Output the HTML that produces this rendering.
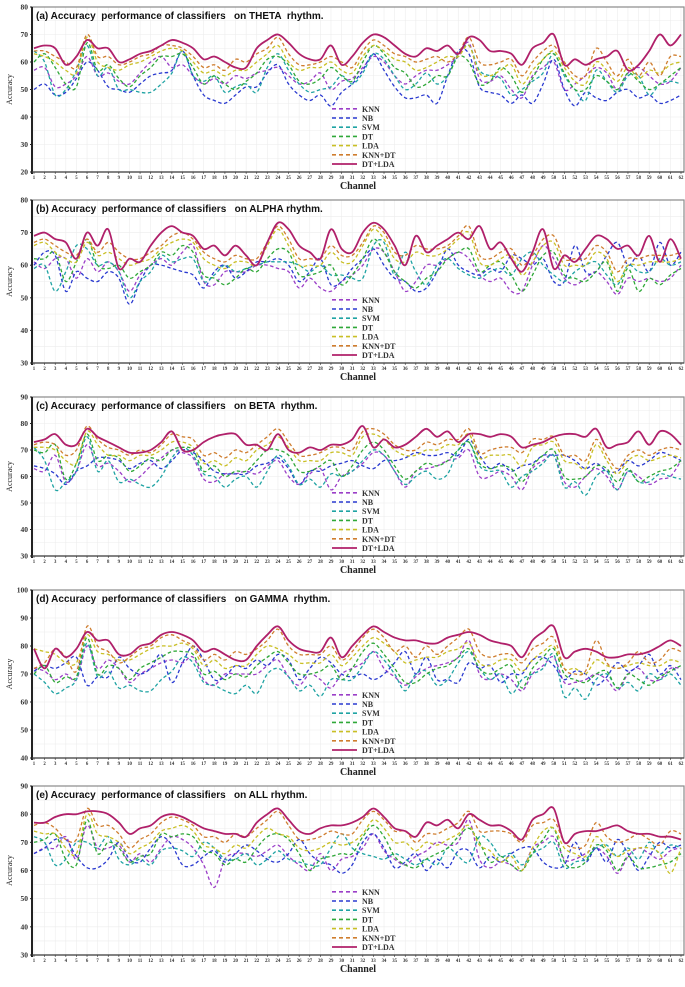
<!DOCTYPE html>
<html><head><meta charset="utf-8">
<style>
html,body{margin:0;padding:0;background:#fff;}
svg{display:block;}
.ttl{white-space:pre;}
</style></head>
<body>
<svg id="chart" width="685" height="987" viewBox="0 0 685 987" xmlns="http://www.w3.org/2000/svg"></svg>
<script>
const channels = Array.from({length:62},(_,i)=>i+1);
const seriesNames = ["KNN","NB","SVM","DT","LDA","KNN+DT","DT+LDA"];
const panelTitles = ["(a) Accuracy  performance of classifiers   on THETA  rhythm.","(b) Accuracy  performance of classifiers   on ALPHA rhythm.","(c) Accuracy  performance of classifiers   on BETA  rhythm.","(d) Accuracy  performance of classifiers   on GAMMA  rhythm.","(e) Accuracy  performance of classifiers   on ALL rhythm."];
const yTicksA = [20,30,40,50,60,70,80];
const yTicksB = [30,40,50,60,70,80];
const yTicksC = [30,40,50,60,70,80,90];
const yTicksD = [40,50,60,70,80,90,100];
const yTicksE = [30,40,50,60,70,80,90];

const thetaKNN=[57,58,51,52,55,62,55,56,53,52,56,60,62,58,59,55,52,54,52,55,54,56,57,58,55,52,53,56,50,53,54,58,62,60,55,52,55,57,57,59,62,67,54,53,55,50,47,55,58,60,50,52,55,58,56,50,56,58,55,52,53,58];
const thetaNB=[50,52,48,49,54,60,57,51,50,49,52,55,56,57,64,55,48,46,45,48,51,51,56,59,52,48,46,48,44,49,52,57,63,57,51,47,47,48,45,55,64,63,51,49,48,45,48,45,52,61,50,44,49,47,46,49,50,47,48,45,46,48];
const thetaSVM=[64,60,48,50,57,66,55,58,50,50,49,49,52,56,64,55,53,55,49,51,52,49,58,63,57,52,49,50,51,55,52,56,63,61,55,50,52,56,52,55,63,66,57,55,54,48,50,53,56,63,55,50,46,57,53,49,55,55,48,52,53,52];
const thetaDT=[60,63,58,52,51,67,57,59,54,51,55,58,62,62,63,58,52,55,52,50,53,56,61,62,59,53,52,54,58,55,53,60,66,63,58,56,51,52,55,55,62,60,52,53,58,55,49,54,61,63,56,50,50,55,53,50,56,53,50,52,55,58];
const thetaLDA=[63,62,60,57,56,69,60,58,57,59,60,62,64,65,64,60,56,57,55,57,57,60,63,66,60,57,58,58,60,57,56,62,66,64,61,60,57,58,60,62,62,66,56,55,57,59,52,57,61,64,58,53,52,60,57,53,58,54,57,56,59,60];
const thetaKNNDT=[64,64,62,60,58,70,62,62,59,60,62,63,66,66,65,62,58,59,57,61,60,63,65,69,63,59,59,60,62,60,58,64,68,66,63,62,60,61,62,60,63,69,60,59,60,61,55,60,64,66,60,55,55,65,60,55,61,55,60,55,62,62];
const thetaDTLDA=[65,66,65,59,62,68,65,65,60,61,63,64,66,68,67,65,61,62,60,58,58,65,68,70,67,63,61,61,66,59,62,67,70,69,66,63,62,65,64,66,63,69,68,64,64,63,59,65,67,70,59,61,59,61,62,64,57,59,64,70,66,70];

const alphaKNN=[61,59,62,62,56,62,58,61,58,52,57,60,62,60,64,66,55,54,58,58,58,60,60,59,58,53,56,53,52,55,57,60,65,64,58,52,55,60,60,62,64,62,57,55,56,52,52,60,66,62,56,54,56,58,55,51,56,55,56,55,56,60];
const alphaNB=[60,64,63,52,58,56,55,58,56,48,55,60,60,59,58,57,53,58,60,56,58,61,61,62,60,55,58,62,54,55,59,62,65,60,56,55,52,53,58,65,60,58,57,59,58,63,62,60,62,55,55,66,58,58,63,67,60,63,58,67,60,64];
const alphaSVM=[59,60,52,58,66,65,60,61,58,50,55,58,63,61,62,62,55,57,60,58,59,60,61,61,61,60,58,60,57,57,56,56,66,67,57,64,58,54,60,62,59,57,56,58,59,57,62,64,60,57,55,58,60,61,57,54,60,58,58,62,60,61];
const alphaDT=[62,62,64,55,61,68,60,59,60,56,58,60,64,63,66,64,57,56,54,56,59,58,62,65,64,57,57,58,60,54,57,62,68,64,58,55,53,56,58,62,64,65,58,60,61,57,52,57,63,64,57,56,55,58,61,52,59,52,56,54,57,59];
const alphaLDA=[66,67,64,62,61,67,63,64,62,60,61,62,65,67,68,67,62,60,59,61,61,60,66,71,66,60,60,60,64,61,61,66,71,68,62,61,64,63,63,65,68,70,61,60,62,63,57,61,66,67,60,60,60,64,62,55,60,60,61,61,61,62];
const alphaKNNDT=[67,68,66,64,63,68,64,67,64,62,62,64,66,69,70,68,64,62,61,63,62,62,67,72,68,62,62,62,66,63,63,67,72,70,64,63,66,65,65,66,69,72,63,62,64,65,60,63,68,69,62,62,62,66,64,58,62,62,63,63,63,64];
const alphaDTLDA=[69,70,68,67,62,70,66,71,59,62,61,66,70,72,70,69,65,66,63,66,63,60,67,73,71,66,64,62,71,65,64,70,73,71,66,60,69,64,66,68,70,68,72,65,67,62,58,64,71,59,63,61,65,69,68,65,66,63,69,61,68,62];

const betaKNN=[63,62,68,58,62,72,64,65,62,58,60,64,67,70,69,67,59,58,61,61,62,61,64,66,60,57,61,63,55,60,62,65,69,68,62,56,62,63,64,66,67,70,60,60,62,60,55,63,66,68,58,56,60,63,60,55,62,60,57,59,60,66];
const betaNB=[64,63,61,57,62,64,67,67,66,63,65,66,63,66,70,69,66,62,61,61,61,64,65,67,63,57,62,62,64,65,66,64,63,66,66,67,69,68,68,69,68,74,68,63,65,62,64,65,68,68,68,66,63,65,62,62,66,64,66,69,68,66];
const betaSVM=[71,66,55,58,62,75,62,66,58,59,57,56,60,67,71,68,61,60,56,59,60,56,62,68,64,57,59,56,61,60,62,66,70,68,62,57,60,62,59,61,70,73,64,62,62,56,60,62,65,68,56,58,53,60,62,55,62,58,58,61,60,59];
const betaDT=[70,69,72,59,65,76,66,68,67,62,64,67,66,70,71,70,62,64,60,62,62,66,70,70,68,62,62,64,66,60,64,70,73,70,64,59,62,65,64,66,70,73,65,63,64,63,58,64,68,70,60,59,60,64,63,58,63,58,60,62,63,66];
const betaLDA=[71,71,70,66,65,77,72,68,68,66,68,68,70,73,73,71,65,66,64,67,66,70,72,75,71,66,66,66,69,69,68,75,76,74,70,68,68,70,70,72,72,76,67,68,68,68,64,71,72,73,66,65,63,72,66,61,66,68,66,67,68,67];
const betaKNNDT=[72,73,72,68,70,79,74,71,70,68,70,69,72,76,75,74,68,69,67,70,69,72,75,78,73,68,68,69,71,71,70,77,78,76,72,70,70,73,72,74,74,78,69,70,71,71,69,74,74,75,68,68,66,74,68,63,68,70,68,70,71,70];
const betaDTLDA=[73,74,76,72,72,78,75,73,71,69,69,70,73,77,70,70,73,75,76,76,72,72,70,76,70,69,71,70,72,72,74,79,71,74,71,72,75,78,75,77,73,76,76,75,76,75,71,72,73,75,76,76,75,78,71,72,73,77,72,77,76,72];

const gammaKNN=[72,71,68,70,68,80,72,75,72,67,70,72,74,75,74,76,68,66,70,70,70,70,73,75,69,66,70,68,65,70,72,74,78,72,69,66,69,72,73,74,76,82,70,68,70,68,64,70,73,76,67,67,68,70,68,64,70,72,68,68,72,72];
const gammaNB=[71,73,72,74,76,66,69,69,76,72,70,72,77,67,74,80,75,68,69,73,72,75,73,77,75,68,72,76,74,70,69,70,68,70,74,78,70,76,68,68,67,74,72,73,67,70,70,75,76,73,68,71,70,66,69,74,71,73,77,70,73,68];
const gammaSVM=[70,67,63,65,68,81,69,71,65,66,64,64,68,71,76,74,67,66,64,63,66,63,70,72,69,64,66,62,68,68,68,73,78,75,70,64,70,71,66,68,74,78,72,68,70,63,68,70,72,77,62,65,61,68,70,65,67,64,70,68,70,66];
const gammaDT=[70,73,67,69,69,83,70,73,72,68,72,74,76,78,78,77,70,71,68,70,69,73,76,78,74,70,70,71,73,68,72,78,81,77,72,67,67,70,72,73,76,79,72,70,72,73,65,72,76,79,70,68,67,70,71,65,70,68,66,69,71,73];
const gammaLDA=[79,78,77,74,74,84,78,77,75,75,77,79,80,80,81,79,73,75,72,73,73,77,80,79,77,74,74,74,77,73,76,80,83,81,78,74,75,76,76,78,79,81,74,73,75,75,71,75,78,80,72,72,70,75,73,72,73,74,73,73,75,74];
const gammaKNNDT=[72,74,79,76,71,87,80,78,74,76,79,80,83,84,82,80,75,77,75,78,77,79,82,86,80,77,77,77,80,75,78,83,86,83,78,80,76,80,77,80,83,86,78,76,77,77,74,79,81,83,72,70,71,82,74,72,74,78,74,75,79,78];
const gammaDTLDA=[79,72,79,76,79,85,82,82,77,77,80,81,84,85,84,82,78,79,77,75,75,80,84,87,82,79,78,78,83,76,80,84,87,85,83,82,82,81,81,83,84,85,84,82,81,80,76,82,85,87,76,78,79,78,76,76,77,77,78,80,82,80];

const allKNN=[66,68,68,72,64,76,68,68,69,63,66,63,68,72,71,68,62,54,64,66,66,65,67,69,65,62,60,66,60,64,65,68,73,67,64,62,65,67,70,69,70,78,64,61,63,62,60,68,70,72,64,64,66,68,65,59,65,68,66,64,67,68];
const allNB=[66,68,71,71,65,61,61,64,70,64,63,68,72,69,62,62,65,67,63,66,69,67,64,63,66,71,66,63,62,59,62,70,73,68,61,63,66,60,64,61,67,67,61,65,63,66,68,68,63,61,62,70,63,68,63,71,66,60,65,70,68,69];
const allSVM=[72,70,62,64,70,70,68,72,64,62,64,62,67,68,67,65,70,68,64,64,66,62,64,67,64,63,62,62,68,73,68,66,65,64,66,64,62,64,62,68,65,63,72,70,65,66,62,66,68,70,61,63,64,68,69,65,68,64,70,66,69,68];
const allDT=[70,71,73,64,62,78,66,70,68,63,65,66,73,72,73,72,67,66,62,64,63,68,72,73,71,66,60,64,65,66,66,72,76,72,65,62,61,64,66,68,72,75,70,63,65,62,60,66,71,75,63,61,63,69,67,60,65,61,61,62,63,66];
const allLDA=[74,73,73,68,66,80,73,72,70,66,68,70,74,75,76,74,69,68,66,69,68,72,75,73,72,68,67,68,70,69,70,73,78,75,70,70,67,70,69,71,73,76,69,67,63,65,60,68,74,75,68,66,65,72,68,65,67,68,68,66,59,68];
const allKNNDT=[76,77,75,71,71,82,76,76,73,68,71,73,77,79,78,76,72,72,70,73,72,75,78,81,76,71,71,72,74,73,73,78,81,78,74,74,70,73,73,75,77,81,74,74,74,73,70,76,77,78,70,68,69,77,72,70,71,73,71,69,74,73];
const allDTLDA=[77,77,79,80,80,81,81,80,77,73,75,76,79,80,79,77,75,74,73,73,72,77,80,82,78,74,73,75,76,76,77,79,82,79,75,74,72,77,76,78,75,80,78,76,76,74,71,78,80,82,70,73,74,74,75,76,74,73,73,72,72,71];

const panelData = [
 [thetaKNN,thetaNB,thetaSVM,thetaDT,thetaLDA,thetaKNNDT,thetaDTLDA],
 [alphaKNN,alphaNB,alphaSVM,alphaDT,alphaLDA,alphaKNNDT,alphaDTLDA],
 [betaKNN,betaNB,betaSVM,betaDT,betaLDA,betaKNNDT,betaDTLDA],
 [gammaKNN,gammaNB,gammaSVM,gammaDT,gammaLDA,gammaKNNDT,gammaDTLDA],
 [allKNN,allNB,allSVM,allDT,allLDA,allKNNDT,allDTLDA]
];
const panelTicks=[yTicksA,yTicksB,yTicksC,yTicksD,yTicksE];

const geom=[{t:7,b:172},{t:200,b:363},{t:397,b:556},{t:590,b:758},{t:786,b:955}];
const colors=["#9b3fc8","#2a3ad0","#1fa3a3","#2fa838","#c9bf25","#cf7d2e","#b0206a"];
const NS="http://www.w3.org/2000/svg";
const svg=document.getElementById('chart');
const X0=34,X1=681,PL=32,PR=684;
function xs(c){return X0+(c-1)*(X1-X0)/61;}
function mk(tag,attrs,parent){const e=document.createElementNS(NS,tag);for(const k in attrs)e.setAttribute(k,attrs[k]);(parent||svg).appendChild(e);return e;}
function smooth(pts){let d="M"+pts[0][0].toFixed(1)+","+pts[0][1].toFixed(1);
 for(let i=0;i<pts.length-1;i++){const p0=pts[i-1]||pts[i],p1=pts[i],p2=pts[i+1],p3=pts[i+2]||p2;
  const c1x=p1[0]+(p2[0]-p0[0])/6,c1y=p1[1]+(p2[1]-p0[1])/6,c2x=p2[0]-(p3[0]-p1[0])/6,c2y=p2[1]-(p3[1]-p1[1])/6;
  d+=" C"+c1x.toFixed(1)+","+c1y.toFixed(1)+" "+c2x.toFixed(1)+","+c2y.toFixed(1)+" "+p2[0].toFixed(1)+","+p2[1].toFixed(1);}
 return d;}

panelData.forEach((series,pi)=>{
 const g=geom[pi],ticks=panelTicks[pi],ymin=ticks[0],ymax=ticks[ticks.length-1];
 const ys=v=>g.b-(v-ymin)*(g.b-g.t)/(ymax-ymin);
 const grp=mk('g',{});
 
 
 const grid=mk('g',{stroke:"#ececec","stroke-width":"0.6"},grp);
 
 
 channels.forEach(c=>mk('line',{x1:xs(c),x2:xs(c),y1:g.t,y2:g.b},grid));
 for(let v=ymin;v<=ymax;v+=5)mk('line',{x1:PL,x2:PR,y1:ys(v),y2:ys(v)},grid);
 const frame=mk('rect',{x:PL,y:g.t,width:PR-PL,height:g.b-g.t,fill:"none",stroke:"#8a8a8a","stroke-width":"1.2"},grp);
 
 
 mk('line',{x1:PL,x2:PL,y1:g.t,y2:g.b+2,stroke:"#222","stroke-width":"2"},grp);
 mk('line',{x1:PL,x2:PR,y1:g.b,y2:g.b,stroke:"#444","stroke-width":"1.2"},grp);
 ticks.forEach(v=>{
  const t=mk('text',{x:PL-4,y:ys(v)+2.5,"text-anchor":"end","font-family":"Liberation Serif, serif","font-weight":"bold","font-size":"7.5",fill:"#333"},grp);
  t.textContent=v;
  
  
  mk('line',{x1:PL-2,x2:PL,y1:ys(v),y2:ys(v),stroke:"#222","stroke-width":"1"},grp);
 });
 const yl=mk('text',{x:0,y:0,transform:"translate(12,"+((g.t+g.b)/2)+") rotate(-90)","text-anchor":"middle","font-family":"Liberation Serif, serif","font-size":"8",fill:"#222"},grp);
 yl.textContent="Accuracy";
 
 
 channels.forEach(c=>{
  const t=mk('text',{x:xs(c),y:g.b+7,"text-anchor":"middle","font-family":"Liberation Serif, serif","font-weight":"bold","font-size":"4.8",fill:"#333"},grp);
  t.textContent=c;
  
  
  mk('line',{x1:xs(c),x2:xs(c),y1:g.b,y2:g.b+2,stroke:"#333","stroke-width":"0.6"},grp);
 });
 const xl=mk('text',{x:358,y:g.b+17,"text-anchor":"middle","font-family":"Liberation Serif, serif","font-weight":"bold","font-size":"10",fill:"#222"},grp);
 xl.textContent="Channel";
 
 
 const tt=mk('text',{x:36,y:g.t+12,"class":"ttl","font-family":"Liberation Sans, sans-serif","font-weight":"bold","font-size":"10",fill:"#111"},grp);
 tt.textContent=panelTitles[pi];
 
 
 series.forEach((arr,si)=>{
  const pts=arr.map((v,i)=>[xs(channels[i]||i+1),ys(v)]);
  const solid=si===6;
  const p=mk('path',{d:smooth(pts),fill:"none",stroke:colors[si],"stroke-width":solid?"1.8":"1.3","stroke-dasharray":solid?"none":"3.5,2.5"},grp);
  
  
 });
 const lg=mk('g',{},grp);
 
 
 seriesNames.forEach((n,si)=>{
  const y=g.b-8-(6-si)*9.2;
  const solid=si===6;
  mk('line',{x1:332,x2:357,y1:y,y2:y,stroke:colors[si],"stroke-width":solid?"1.8":"1.6","stroke-dasharray":solid?"none":"4,3"},lg);
  const t=mk('text',{x:362,y:y+3,"font-family":"Liberation Serif, serif","font-weight":"bold","font-size":"8",fill:"#333"},lg);
  t.textContent=n;
  
  
 });
});
</script>
</body></html>
